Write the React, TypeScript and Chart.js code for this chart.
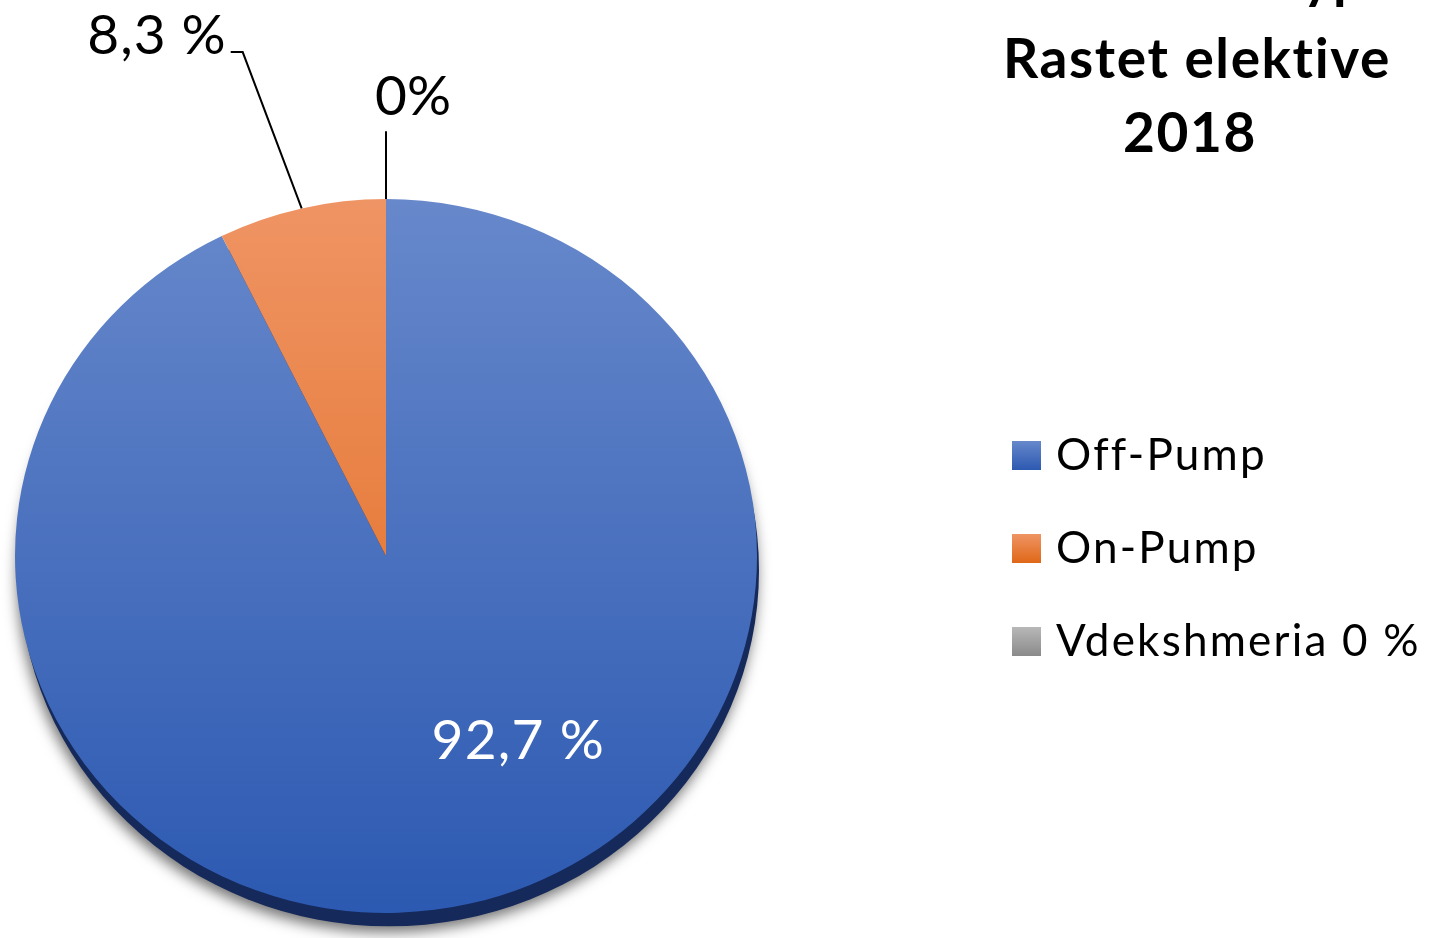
import React, { useEffect, useRef } from "react";
import { Chart, registerables } from "chart.js";

Chart.register(...registerables);

const categories = ["Off-Pump", "On-Pump", "Vdekshmeria 0 %"];
const values = [92.7, 7.3, 0];
const valueLabels = ["92,7 %", "8,3 %", "0%"];
const titleLines = ["Koronar Bypass", "Rastet elektive", "2018"];

const gradientStops: [string, string][] = [
  ["#6788cb", "#2c59b1"],
  ["#ef9464", "#df6717"],
  ["#b8b8b8", "#8a8a8a"],
];

const FONT = "Lato, 'Open Sans', sans-serif";
const Y_SCALE = 0.962;

function vGrad(ctx: CanvasRenderingContext2D, top: number, bottom: number, i: number) {
  const g = ctx.createLinearGradient(0, top, 0, bottom);
  g.addColorStop(0, gradientStops[i][0]);
  g.addColorStop(1, gradientStops[i][1]);
  return g;
}

const tiltPlugin = {
  id: "tilt",
  beforeDatasetsDraw(chart: any) {
    const ctx = chart.ctx as CanvasRenderingContext2D;
    const el = chart.getDatasetMeta(0).data[0];
    if (!el) return;
    const cx = el.x, cy = el.y, r = el.outerRadius;
    ctx.save();
    ctx.translate(cx, cy);
    ctx.scale(1, Y_SCALE);
    ctx.translate(-cx, -cy);
    ctx.save();
    ctx.shadowColor = "rgba(0,0,0,0.55)";
    ctx.shadowBlur = 14;
    ctx.shadowOffsetX = -2;
    ctx.shadowOffsetY = 6;
    ctx.fillStyle = "#15295a";
    ctx.beginPath();
    ctx.arc(cx + 3, cy + 15, r - 1, 0, Math.PI * 2);
    ctx.fill();
    ctx.restore();
  },
  afterDatasetsDraw(chart: any) {
    chart.ctx.restore();
  },
};

const labelPlugin = {
  id: "labels",
  afterDraw(chart: any) {
    const ctx = chart.ctx as CanvasRenderingContext2D & { letterSpacing?: string };
    const arcs = chart.getDatasetMeta(0).data;
    if (!arcs.length) return;
    const cx = arcs[0].x, cy = arcs[0].y, r = arcs[0].outerRadius;
    const pt = (a: number, rad: number) => ({
      x: cx + Math.cos(a) * rad,
      y: cy + Math.sin(a) * rad * Y_SCALE,
    });
    ctx.save();
    // Off-Pump label (inside)
    {
      const a = arcs[0];
      const ang = a.startAngle + 0.436 * (a.endAngle - a.startAngle);
      const p = pt(ang, 0.63 * r);
      ctx.fillStyle = "#ffffff";
      ctx.font = `55px ${FONT}`;
      ctx.letterSpacing = "1.2px";
      ctx.textAlign = "center";
      ctx.textBaseline = "middle";
      ctx.fillText(valueLabels[0], p.x, p.y);
    }
    ctx.strokeStyle = "#000000";
    ctx.lineWidth = 2;
    ctx.fillStyle = "#000000";
    ctx.font = `55px ${FONT}`;
    ctx.textBaseline = "alphabetic";
    // On-Pump label with elbow leader
    {
      const a = arcs[1];
      const mid = (a.startAngle + a.endAngle) / 2;
      const p0 = pt(mid, r);
      const p1 = pt(mid, 1.45 * r);
      p1.x -= 21;
      ctx.beginPath();
      ctx.moveTo(p0.x, p0.y);
      ctx.lineTo(p1.x, p1.y);
      ctx.lineTo(p1.x - 12, p1.y);
      ctx.stroke();
      ctx.letterSpacing = "1px";
      ctx.textAlign = "right";
      ctx.fillText(valueLabels[1], p1.x - 16, p1.y + 2);
    }
    // Vdekshmeria label with straight leader
    {
      const a = arcs[2];
      const mid = (a.startAngle + a.endAngle) / 2;
      const p0 = pt(mid, r);
      const p1 = pt(mid, 1.19 * r);
      ctx.beginPath();
      ctx.moveTo(p0.x, p0.y);
      ctx.lineTo(p1.x, p1.y);
      ctx.stroke();
      ctx.letterSpacing = "0px";
      ctx.textAlign = "left";
      ctx.fillText(valueLabels[2], p1.x - 11, p1.y - 16);
    }
    // Title
    ctx.font = `bold 55px ${FONT}`;
    ctx.letterSpacing = "1.6px";
    ctx.textAlign = "left";
    const pre = ctx.measureText("Koronar B").width;
    ctx.fillText(titleLines[0], 1303 - pre, -2);
    ctx.textAlign = "center";
    ctx.fillText(titleLines[1], 1197, 78);
    ctx.fillText(titleLines[2], 1190, 152);
    // Legend
    ctx.font = `44px ${FONT}`;
    ctx.letterSpacing = "2.2px";
    ctx.textAlign = "left";
    for (let i = 0; i < categories.length; i++) {
      const top = 441 + i * 93;
      ctx.fillStyle = vGrad(ctx, top, top + 29, i);
      ctx.fillRect(1012, top, 29, 29);
      ctx.fillStyle = "#000000";
      ctx.fillText(categories[i], 1056, top + 29);
    }
    ctx.restore();
  },
};

export default function App() {
  const ref = useRef<HTMLCanvasElement>(null);
  useEffect(() => {
    if (!ref.current) return;
    const chart = new Chart(ref.current, {
      type: "pie",
      data: {
        labels: categories,
        datasets: [
          {
            data: values,
            backgroundColor: (c: any) => {
              const area = c.chart.chartArea;
              if (!area) return gradientStops[c.dataIndex][0];
              return vGrad(c.chart.ctx, area.top, area.bottom, c.dataIndex);
            },
            borderWidth: 0,
          },
        ],
      },
      options: {
        responsive: false,
        animation: false,
        layout: { padding: { left: 15, right: 678, top: 185, bottom: 11 } },
        plugins: {
          legend: { display: false },
          tooltip: { enabled: false },
          title: { display: false },
        },
      },
      plugins: [tiltPlugin, labelPlugin],
    });
    return () => chart.destroy();
  }, []);
  return (
    <div style={{ position: "absolute", left: 0, top: 0, width: 1435, height: 938, background: "#ffffff" }}>
      <canvas ref={ref} width={1435} height={938} style={{ display: "block" }} />
    </div>
  );
}
